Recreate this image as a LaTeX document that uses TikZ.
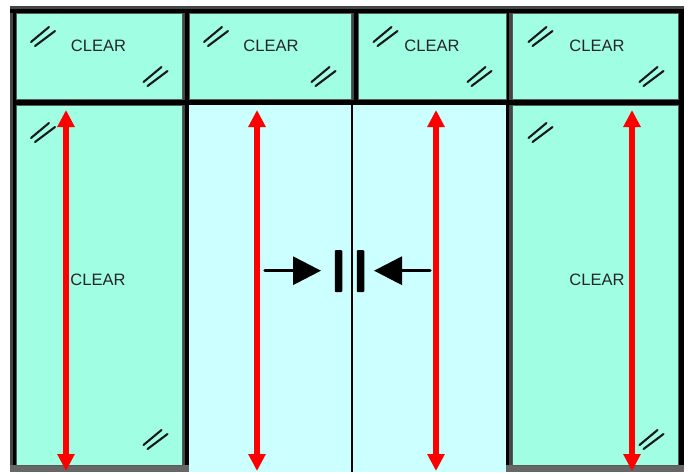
\documentclass[tikz,border=0pt]{standalone}
\usepackage{fontspec}
\setmainfont{Liberation Sans}
\usetikzlibrary{arrows.meta}
\definecolor{sidepane}{HTML}{A0FFE3}
\definecolor{doorpane}{HTML}{CCFFFF}
\definecolor{framegray}{HTML}{454545}
\definecolor{sillgray}{HTML}{666666}
\tikzset{
	pane/.style={anchor=north west, inner sep=0pt, outer sep=0pt, draw=black!65, line width=.6pt, fill=sidepane},
	clearlabel/.style={font=\fontsize{16.5}{18}\selectfont, text=black!85, inner sep=0pt},
	redarrow/.style={draw=red, line width=5.5pt, {Triangle[length=17pt,width=16.5pt]}-{Triangle[length=17pt,width=16.5pt]}},
	pusharrow/.style={draw=black, line width=3.2pt, line cap=round, -{Triangle[length=28pt,width=28pt]}},
	glassmark/.pic={
		\draw[line width=2.1pt, line cap=round, black!90] (-11.5,6) -- (6.5,-9);
		\draw[line width=2.1pt, line cap=round, black!90] (-7.5,10) -- (12.5,-5);
	}
}
\begin{document}
\begin{tikzpicture}[x=1pt, y=-1pt]
	\useasboundingbox (0,0) rectangle (689,472);
	% frame
	\fill[framegray] (10,6) rectangle (684,472);
	\fill[black] (10,9) rectangle (684,13);
	\fill[black] (13,13) rectangle (16,465);
	\fill[black] (185,13) rectangle (189,472);
	\fill[black] (354,13) rectangle (358,105);
	\fill[black] (506,13) rectangle (509,472);
	\fill[black] (675,13) rectangle (684,465);
	\fill[black] (16,100) rectangle (678,105);
	\fill[sillgray] (10,465) rectangle (189,472);
	\fill[sillgray] (506,465) rectangle (684,472);
	% top panes
	\node (top1) [pane, minimum width=166pt, minimum height=86pt] at (16,13) {};
	\node (top2) [pane, minimum width=162pt, minimum height=86pt] at (189,13) {};
	\node (top3) [pane, minimum width=148pt, minimum height=86pt] at (358,13) {};
	\node (top4) [pane, minimum width=166pt, minimum height=86pt] at (512,13) {};
	% bottom panes
	\node (side1) [pane, minimum width=166pt, minimum height=360pt] at (16,105) {};
	\node (door1) [pane, draw=none, fill=doorpane, minimum width=163pt, minimum height=367pt] at (189,105) {};
	\node (door2) [pane, draw=none, fill=doorpane, minimum width=154pt, minimum height=367pt] at (352,105) {};
	\node (side2) [pane, minimum width=166pt, minimum height=360pt] at (512,105) {};
	\draw[black, line width=2.6pt] (door1.north east) -- (door1.south east);
	% labels
	\node (c1) [clearlabel] at (98.5,46) {CLEAR};
	\node (c2) [clearlabel] at (271,46) {CLEAR};
	\node (c3) [clearlabel] at (432,46) {CLEAR};
	\node (c4) [clearlabel] at (597,46) {CLEAR};
	\node (c5) [clearlabel] at (98,280) {CLEAR};
	\node (c6) [clearlabel] at (597,280) {CLEAR};
	% glass marks
	\pic at (42.5,36) {glassmark};
	\pic at (155,76) {glassmark};
	\pic at (215.5,36) {glassmark};
	\pic at (323,76) {glassmark};
	\pic at (385,36) {glassmark};
	\pic at (479,76) {glassmark};
	\pic at (540,36) {glassmark};
	\pic at (651,76) {glassmark};
	\pic at (42.5,132) {glassmark};
	\pic at (155,439) {glassmark};
	\pic at (540,132) {glassmark};
	\pic at (651,439) {glassmark};
	% red arrows
	\coordinate (r1a) at (66,110);
	\coordinate (r1b) at (66,471);
	\coordinate (r2a) at (257,110);
	\coordinate (r2b) at (257,471);
	\coordinate (r3a) at (436,110);
	\coordinate (r3b) at (436,471);
	\coordinate (r4a) at (632,110);
	\coordinate (r4b) at (632,471);
	\draw[redarrow] (r1a) -- (r1b);
	\draw[redarrow] (r2a) -- (r2b);
	\draw[redarrow] (r3a) -- (r3b);
	\draw[redarrow] (r4a) -- (r4b);
	% door handles
	\node (bar1) [fill=black, rounded corners=1pt, inner sep=0pt, minimum width=7.5pt, minimum height=42pt] at (338.5,271) {};
	\node (bar2) [fill=black, rounded corners=1pt, inner sep=0pt, minimum width=7.5pt, minimum height=42pt] at (360.5,271) {};
	\coordinate (p1a) at (265,270.7);
	\coordinate (p1b) at (321,270.7);
	\coordinate (p2a) at (430,270.7);
	\coordinate (p2b) at (374,270.7);
	\draw[pusharrow] (p1a) -- (p1b);
	\draw[pusharrow] (p2a) -- (p2b);
\end{tikzpicture}
\end{document}
